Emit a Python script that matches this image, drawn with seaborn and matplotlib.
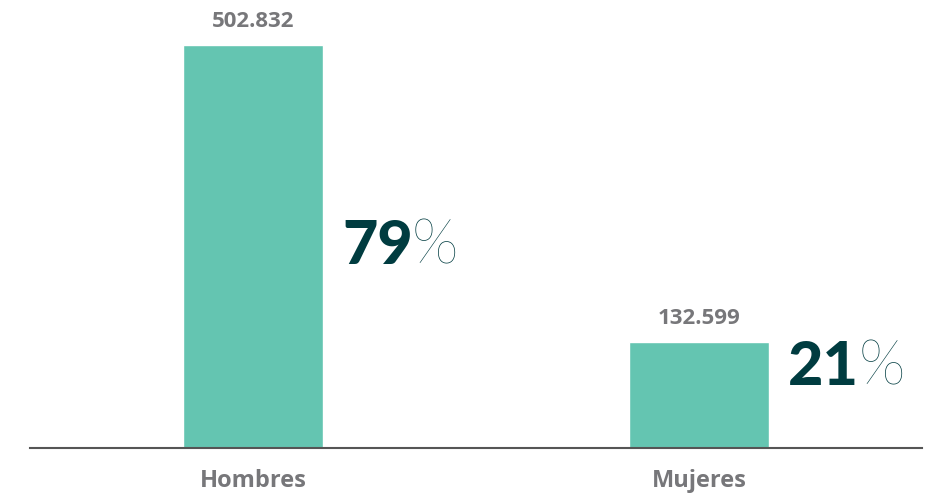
import matplotlib
matplotlib.use("Agg")
import matplotlib.pyplot as plt
import seaborn as sns
import pandas as pd

categories = ["Hombres", "Mujeres"]
values = [502832, 132599]
value_labels = ["502.832", "132.599"]
percents = ["79", "21"]

sns.set_theme(style="white")
plt.rcParams['font.family'] = ['Lato', 'DejaVu Sans']

df = pd.DataFrame({"cat": categories, "val": values})

fig = plt.figure(figsize=(9.37, 4.95), dpi=100)
ax = fig.add_axes([30/937, 47/495, 892/937, 403/495])
sns.barplot(data=df, x="cat", y="val", color="#64c5b1", saturation=1, width=0.313, ax=ax)

ax.set_xlim(-0.5, 1.5)
ax.set_ylim(0, values[0])
for s in ["top", "right", "left"]:
    ax.spines[s].set_visible(False)
ax.spines["bottom"].set_color("#555555")
ax.spines["bottom"].set_linewidth(1.5)
ax.set_yticks([])
ax.set_xlabel("")
ax.set_ylabel("")
ax.tick_params(axis="x", length=0, pad=15)
for lbl in ax.get_xticklabels():
    lbl.set_fontsize(17)
    lbl.set_fontweight("bold")
    lbl.set_family(["Open Sans", "DejaVu Sans"])
    lbl.set_color("#77777a")

for i, (v, vl) in enumerate(zip(values, value_labels)):
    ax.annotate(vl, (i, v), xytext=(0, 9), textcoords="offset points",
                ha="center", va="bottom", fontsize=16, fontweight="bold",
                family=["Open Sans", "DejaVu Sans"],
                color="#77777a", annotation_clip=False)

fig.canvas.draw()
renderer = fig.canvas.get_renderer()
for i, (v, p) in enumerate(zip(values, percents)):
    t = ax.annotate(p, (i + 0.313/2, v * 0.5 if i == 0 else v * 0.76), xytext=(14, 0),
                    textcoords="offset points", ha="left", va="center",
                    fontsize=44, fontweight="black", color="#003c40",
                    annotation_clip=False)
    fig.canvas.draw()
    bb = t.get_window_extent(renderer)
    x1 = bb.x1
    ymid = (bb.y0 + bb.y1) / 2
    fig.text(x1 / fig.bbox.width - 1/937, ymid / fig.bbox.height, "%",
             ha="left", va="center", fontsize=44, fontweight="light",
             color="#003c40")

fig.savefig("out.png", dpi=100, facecolor="white")
